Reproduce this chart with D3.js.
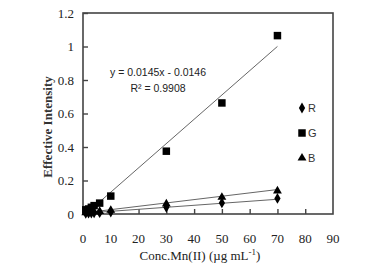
<!DOCTYPE html>
<html>
<head>
<meta charset="utf-8">
<script src="https://cdnjs.cloudflare.com/ajax/libs/d3/7.8.5/d3.min.js"></script>
<style>
  body { margin: 0; background: #fff; }
  svg { display: block; }
</style>
</head>
<body>
<svg id="chart" width="379" height="273"></svg>
<script>
// concentrations of Mn(II), ug/mL
var conc = [1, 2, 3, 4, 6, 10, 30, 50, 70];
var valuesR = [0.004, 0.005, 0.006, 0.007, 0.008, 0.012, 0.04, 0.066, 0.093];
var valuesG = [0.025, 0.03, 0.04, 0.05, 0.065, 0.107, 0.375, 0.663, 1.065];
var valuesB = [0.008, 0.009, 0.01, 0.012, 0.016, 0.022, 0.06, 0.1, 0.138];

// fitted lines: [slope, intercept]
var fitR = [0.0012, 0.004];
var fitG = [0.0145, -0.0146];
var fitB = [0.002, 0.006];
var fitRange = [1, 70];

var xTicks = [0, 10, 20, 30, 40, 50, 60, 70, 80, 90];
var yTicks = [0, 0.2, 0.4, 0.6, 0.8, 1, 1.2];

var seriesNames = ["R", "G", "B"];

var svg = d3.select("#chart");

var x = d3.scaleLinear().domain([0, 90]).range([83, 333]);
var y = d3.scaleLinear().domain([0, 1.2]).range([214, 13]);

var axisColor = "#444";
var serif = "'Liberation Serif', 'Times New Roman', serif";
var narrow = "'Liberation Sans Narrow', 'Arial Narrow', 'Liberation Sans', sans-serif";

// frame
svg.append("rect")
    .attr("x", x(0)).attr("y", y(1.2))
    .attr("width", x(90) - x(0)).attr("height", y(0) - y(1.2))
    .attr("fill", "none").attr("stroke", axisColor).attr("stroke-width", 1.6);

// y axis (ticks pointing inward)
var yAxis = svg.append("g")
    .attr("transform", "translate(" + x(0) + ",0)")
    .call(d3.axisRight(y).tickValues(yTicks).tickSize(5).tickFormat(""));
yAxis.select(".domain").remove();
yAxis.selectAll("line").attr("stroke", axisColor).attr("stroke-width", 1.4);

svg.append("g").selectAll("text")
    .data(yTicks).enter().append("text")
    .attr("x", 74)
    .attr("y", function (d) { return y(d); })
    .attr("dy", "0.35em")
    .attr("text-anchor", "end")
    .attr("font-family", serif)
    .attr("font-size", 13)
    .attr("fill", "#222")
    .text(function (d) { return d3.format("")(d); });

// x axis (ticks pointing up)
var xAxis = svg.append("g")
    .attr("transform", "translate(0," + y(0) + ")")
    .call(d3.axisTop(x).tickValues(xTicks.slice(1, -1)).tickSize(5).tickFormat(""));
xAxis.select(".domain").remove();
xAxis.selectAll("line").attr("stroke", axisColor).attr("stroke-width", 1.4);

svg.append("g").selectAll("text")
    .data(xTicks).enter().append("text")
    .attr("x", function (d) { return x(d); })
    .attr("y", 238)
    .attr("dy", "0.35em")
    .attr("text-anchor", "middle")
    .attr("font-family", serif)
    .attr("font-size", 13)
    .attr("fill", "#222")
    .text(function (d) { return d; });

// axis titles
var xt = svg.append("text")
    .attr("x", 200).attr("y", 260)
    .attr("text-anchor", "middle")
    .attr("font-family", serif)
    .attr("font-size", 13)
    .attr("fill", "#222");
xt.append("tspan").text("Conc.Mn(II) (\u00b5g mL");
xt.append("tspan").attr("dy", -5).attr("font-size", 9).text("-1");
xt.append("tspan").attr("dy", 5).text(")");

svg.append("text")
    .attr("transform", "translate(47,127) rotate(-90)")
    .attr("text-anchor", "middle")
    .attr("dy", "0.35em")
    .attr("font-family", serif)
    .attr("font-size", 13)
    .attr("font-weight", "bold")
    .attr("fill", "#333")
    .text("Effective Intensity");

// trend lines
[fitR, fitG, fitB].forEach(function (f) {
    svg.append("line")
        .attr("x1", x(fitRange[0])).attr("y1", y(f[0] * fitRange[0] + f[1]))
        .attr("x2", x(fitRange[1])).attr("y2", y(f[0] * fitRange[1] + f[1]))
        .attr("stroke", "#666").attr("stroke-width", 1);
});

// markers
var symR = d3.symbol().type(d3.symbolDiamond).size(34);
var symG = d3.symbol().type(d3.symbolSquare).size(56);
var symB = d3.symbol().type(d3.symbolTriangle).size(34);

function drawPoints(values, sym) {
    svg.append("g").selectAll("path")
        .data(values).enter().append("path")
        .attr("d", sym)
        .attr("transform", function (d, i) {
            return "translate(" + x(conc[i]) + "," + y(d) + ")";
        })
        .attr("fill", "#000");
}
drawPoints(valuesR, symR);
drawPoints(valuesB, symB);
drawPoints(valuesG, symG);

// equation
svg.append("text")
    .attr("x", 158).attr("y", 72)
    .attr("dy", "0.35em")
    .attr("text-anchor", "middle")
    .attr("font-family", narrow)
    .attr("font-size", 10.5)
    .attr("fill", "#222")
    .text("y = 0.0145x - 0.0146");
var r2 = svg.append("text")
    .attr("x", 158).attr("y", 88)
    .attr("dy", "0.35em")
    .attr("text-anchor", "middle")
    .attr("font-family", narrow)
    .attr("font-size", 10.5)
    .attr("fill", "#222");
r2.append("tspan").text("R\u00b2 = 0.9908");

// legend
var legendSyms = [symR, symG, symB];
var legendY = [108, 133, 158];
var legend = svg.append("g").selectAll("g")
    .data(seriesNames).enter().append("g")
    .attr("transform", function (d, i) { return "translate(302," + legendY[i] + ")"; });
legend.append("path")
    .attr("d", function (d, i) { return legendSyms[i](); })
    .attr("fill", "#000");
legend.append("text")
    .attr("x", 6)
    .attr("dy", "0.35em")
    .attr("font-family", narrow)
    .attr("font-size", 11)
    .attr("fill", "#333")
    .text(function (d) { return d; });
</script>
</body>
</html>
